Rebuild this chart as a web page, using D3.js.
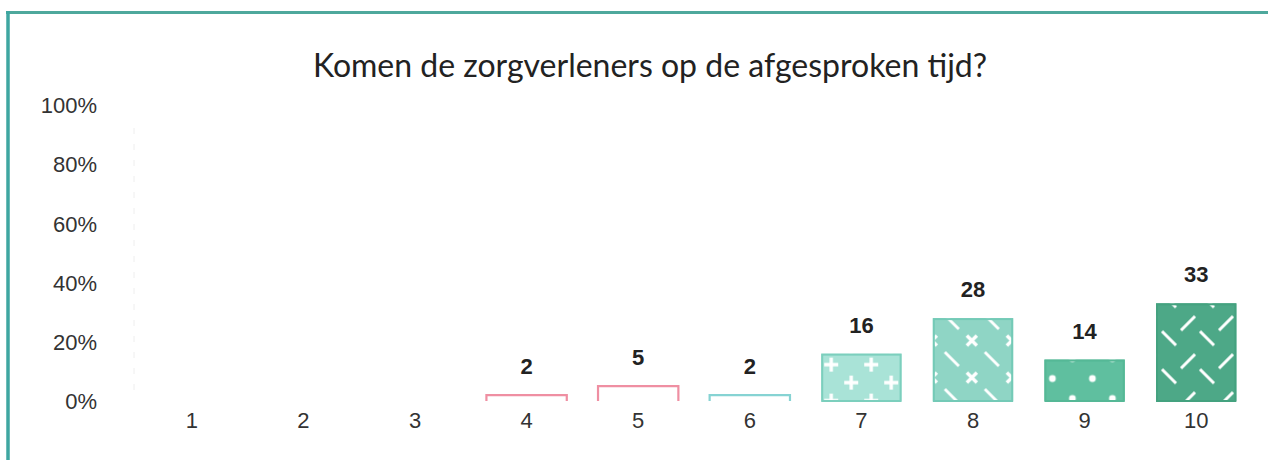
<!DOCTYPE html>
<html><head><meta charset="utf-8">
<script src="https://cdn.jsdelivr.net/npm/d3@7"></script>
<style>body{margin:0;background:#fff}svg{display:block}</style>
</head><body>
<svg id="c" width="1268" height="460"></svg>
<script>
const title = "Komen de zorgverleners op de afgesproken tijd?";
const categories = ["1","2","3","4","5","6","7","8","9","10"];
const values = [0,0,0,2,5,2,16,28,14,33];
const yTicks = [0,20,40,60,80,100];
const fills = [null,null,null,"none","none","none","#a9e3d7","#8fd5c5","#5fbf9f","#4da887"];
const strokes = [null,null,null,"#ef8fa2","#ef8fa2","#86d3d3","#7ccfbd","#74cab7","#55b896","#44a27f"];
const patterns = [null,null,null,null,null,null,"plus","xdash","dots","herring"];

const svg = d3.select("#c");
const W = 1268, H = 460;
const LABEL_FONT = "'Liberation Sans', Arial, sans-serif";

// frame
svg.append("line").attr("x1",6).attr("x2",W).attr("y1",12.5).attr("y2",12.5).attr("stroke","#4ea89c").attr("stroke-width",3);
svg.append("line").attr("x1",8).attr("x2",8).attr("y1",11).attr("y2",H).attr("stroke","#3ea6a1").attr("stroke-width",3.5);

svg.append("text").attr("x",650).attr("y",77).attr("text-anchor","middle")
  .attr("font-family","Lato, 'Open Sans', sans-serif").attr("font-size",32).attr("fill","#222").text(title);

const x = d3.scaleBand().domain(categories).range([136,1252]).paddingInner(0.28).paddingOuter(0.14);
const y = d3.scaleLinear().domain([0,100]).range([401,105]);

// faint dashed axis line
svg.append("line").attr("x1",134).attr("x2",134).attr("y1",128).attr("y2",400)
  .attr("stroke","#eee").attr("stroke-dasharray","6,10");

// y axis labels
const yAxis = d3.axisLeft(y).tickValues(yTicks).tickFormat(d=>d+"%").tickSize(0).tickPadding(0);
const gy = svg.append("g").attr("transform","translate(97,0)").call(yAxis);
gy.attr("font-family",null).attr("font-size",null);
gy.select(".domain").remove();
gy.selectAll("text").attr("font-family",LABEL_FONT).attr("font-size",22).attr("fill","#333").attr("dy","0.35em");

// x axis labels
const xAxis = d3.axisBottom(x).tickSize(0).tickPadding(0);
const gx = svg.append("g").attr("transform","translate(0,415)").call(xAxis);
gx.attr("font-family",null).attr("font-size",null);
gx.select(".domain").remove();
gx.selectAll("text").attr("font-family",LABEL_FONT).attr("font-size",22).attr("fill","#333").attr("dy","0.6em");

// patterns (each shape drawn with 3x3 offsets so it wraps across tiles)
const defs = svg.append("defs");
const offs = [-1,0,1];
function pat(id, w, h, ox, oy, draw){
  const p = defs.append("pattern").attr("id",id).attr("patternUnits","userSpaceOnUse")
    .attr("x",ox).attr("y",oy).attr("width",w).attr("height",h);
  offs.forEach(i=>offs.forEach(j=>{
    draw(p.append("g").attr("transform",`translate(${i*w},${j*h})`));
  }));
}
const barOrigin = c => ({x: x(c), y: y(values[categories.indexOf(c)])});

// bar 7: pluses
{ const o = barOrigin("7");
  pat("plus",40,36,o.x-10,o.y-7,g=>{
    g.append("path").attr("d","M13,18H27M20,11V25M-7,0H7M0,-7V7").attr("stroke","#fff").attr("stroke-width",3.4);
  }); }
// bar 8: x marks and diagonal dashes
{ const o = barOrigin("8");
  pat("xdash",40,37,o.x-21,o.y+4,g=>{
    g.append("path").attr("d","M15,13.5L25,23.5M25,13.5L15,23.5").attr("stroke","#fff").attr("stroke-width",3.4);
    g.append("path").attr("d","M-7,-7L7,7").attr("stroke","#fff").attr("stroke-width",2.8);
  }); }
// bar 9: dots
{ const o = barOrigin("9");
  pat("dots",40,40,o.x-12,o.y-1,g=>{
    g.append("circle").attr("cx",20).attr("cy",20).attr("r",3.4).attr("fill","#fff");
    g.append("circle").attr("cx",0).attr("cy",0).attr("r",3.4).attr("fill","#fff");
  }); }
// bar 10: herringbone dashes
{ const o = barOrigin("10");
  pat("herring",38,38,o.x+3,o.y+12,g=>{
    g.append("path").attr("d","M22,15L36,1M3,16L17,30").attr("stroke","#fff").attr("stroke-width",3);
  }); }

const data = categories.map((c,i)=>({c,v:values[i],fill:fills[i],stroke:strokes[i],pat:patterns[i]})).filter(d=>d.v>0);

const bars = svg.append("g");
data.forEach(d=>{
  const x0 = x(d.c), x1 = x0 + x.bandwidth(), yt = y(d.v), yb = y(0);
  if (d.fill === "none") {
    bars.append("path").attr("d",`M${x0},${yb}V${yt}H${x1}V${yb}`).attr("fill","none").attr("stroke",d.stroke).attr("stroke-width",2.2);
  } else {
    bars.append("rect").attr("x",x0).attr("y",yt).attr("width",x.bandwidth()).attr("height",yb-yt).attr("fill",d.fill);
    bars.append("rect").attr("x",x0).attr("y",yt).attr("width",x.bandwidth()).attr("height",yb-yt).attr("fill",`url(#${d.pat})`);
    bars.append("rect").attr("x",x0+1).attr("y",yt+1).attr("width",x.bandwidth()-2).attr("height",yb-yt-1)
      .attr("fill","none").attr("stroke",d.stroke).attr("stroke-width",2);
  }
  svg.append("text").attr("x",x0+x.bandwidth()/2).attr("y",yt-21).attr("text-anchor","middle")
    .attr("font-family",LABEL_FONT).attr("font-weight","bold").attr("font-size",22).attr("fill","#222").text(d.v);
});
</script>
</body></html>
